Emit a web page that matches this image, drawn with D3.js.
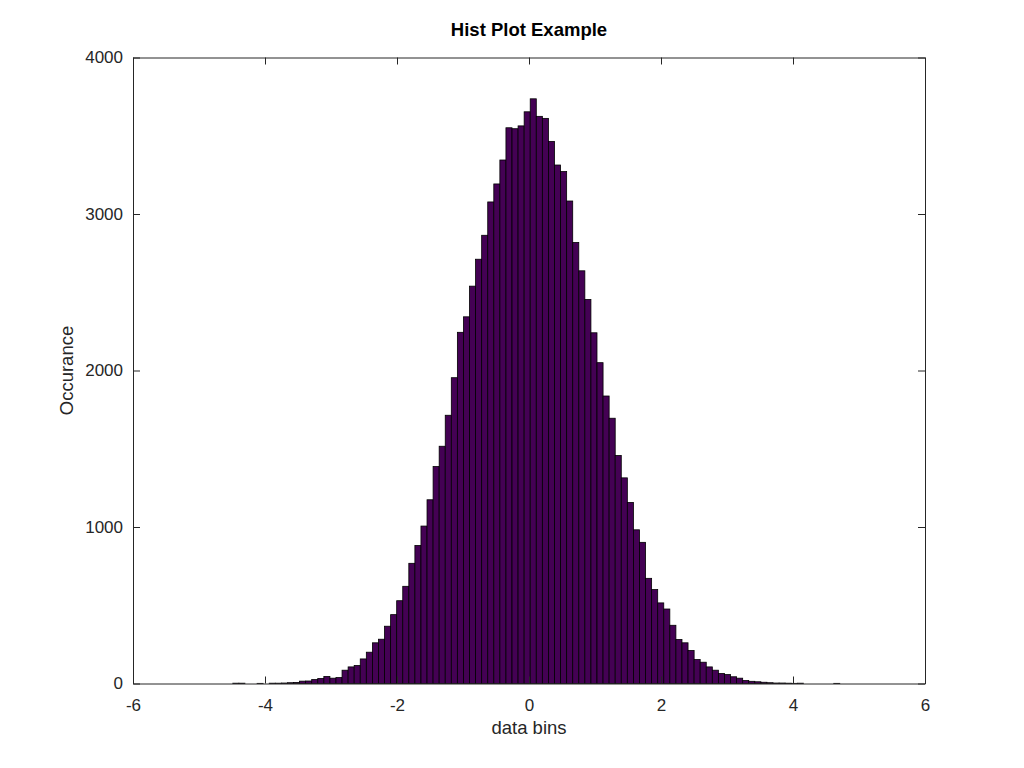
<!DOCTYPE html>
<html>
<head>
<meta charset="utf-8">
<script src="https://cdn.jsdelivr.net/npm/d3@7"></script>
<style>
  body { margin: 0; background: #fff; }
  svg { display: block; font-family: "Liberation Sans", Arial, Helvetica, sans-serif; }
</style>
</head>
<body>
<div id="chart"></div>
<script>
/* DATA */
// 100 equal bins
const binStart = -4.488;
const binWidth = 0.09197;
const counts = [
  2, 2, 0, 0, 1, 0, 2, 2, 3, 5,
  7, 15, 16, 25, 32, 45, 34, 38, 85, 106,
  115, 157, 200, 260, 283, 366, 440, 529, 621, 768,
  882, 1006, 1174, 1386, 1516, 1714, 1954, 2244, 2343, 2539,
  2711, 2864, 3077, 3192, 3345, 3551, 3545, 3563, 3653, 3736,
  3624, 3611, 3464, 3313, 3271, 3083, 2818, 2637, 2454, 2241,
  2050, 1837, 1695, 1457, 1314, 1157, 982, 902, 672, 600,
  515, 476, 372, 281, 260, 211, 153, 136, 106, 85,
  64, 57, 43, 34, 19, 14, 11, 8, 5, 3,
  3, 2, 1, 2, 0, 0, 0, 0, 0, 1
];
const xTicks = [-6, -4, -2, 0, 2, 4, 6];
const yTicks = [0, 1000, 2000, 3000, 4000];

/* CONSTANTS */
const width = 1024,
  height = 768,
  margin = { top: 57.5, bottom: 84.5, left: 133, right: 99 };
const axisColor = "#262626";

const bins = counts.map((c, i) => ({
  x0: binStart + i * binWidth,
  x1: binStart + (i + 1) * binWidth,
  count: c
}));

const svg = d3.select("#chart")
  .append("svg")
  .attr("width", width)
  .attr("height", height);

const xScale = d3.scaleLinear()
  .domain([-6, 6])
  .range([margin.left, width - margin.right]);

const yScale = d3.scaleLinear()
  .domain([0, 4000])
  .range([height - margin.bottom, margin.top]);

// bars
svg.append("g")
  .selectAll("rect")
  .data(bins.filter(d => d.count > 0))
  .join("rect")
  .attr("x", d => xScale(d.x0))
  .attr("width", d => xScale(d.x1) - xScale(d.x0))
  .attr("y", d => yScale(d.count))
  .attr("height", d => yScale(0) - yScale(d.count))
  .attr("fill", "#440154")
  .attr("stroke", "#000")
  .attr("stroke-width", 0.8);

// axes, ticks point inwards; plain hyphen for negatives like the original
const plain = d => String(d);
const xAxis = d3.axisBottom(xScale).tickValues(xTicks).tickSizeInner(-7).tickSizeOuter(0).tickPadding(15).tickFormat(plain);
const yAxis = d3.axisLeft(yScale).tickValues(yTicks).tickSizeInner(-7).tickSizeOuter(0).tickPadding(10).tickFormat(plain);
const xTop = d3.axisTop(xScale).tickValues(xTicks).tickSizeInner(-7).tickSizeOuter(0).tickFormat("");
const yRight = d3.axisRight(yScale).tickValues(yTicks).tickSizeInner(-7).tickSizeOuter(0).tickFormat("");

function styleAxis(g) {
  g.select(".domain").attr("stroke", axisColor);
  g.selectAll(".tick line").attr("stroke", axisColor);
  g.selectAll(".tick text")
    .attr("fill", axisColor)
    .style("font-size", "17px")
    .style("font-family", "'Liberation Sans', Arial, sans-serif");
}

svg.append("g")
  .attr("transform", `translate(0, ${height - margin.bottom})`)
  .call(xAxis)
  .call(styleAxis);

svg.append("g")
  .attr("transform", `translate(${margin.left}, 0)`)
  .call(yAxis)
  .call(styleAxis);

svg.append("g")
  .attr("transform", `translate(0, ${margin.top})`)
  .call(xTop)
  .call(styleAxis);

svg.append("g")
  .attr("transform", `translate(${width - margin.right}, 0)`)
  .call(yRight)
  .call(styleAxis);

// labels
svg.append("text")
  .attr("x", xScale(0))
  .attr("y", 36)
  .attr("text-anchor", "middle")
  .style("font-size", "18.5px")
  .style("font-weight", "bold")
  .attr("fill", "#000")
  .text("Hist Plot Example");

svg.append("text")
  .attr("x", xScale(0))
  .attr("y", 734)
  .attr("text-anchor", "middle")
  .style("font-size", "18.5px")
  .attr("fill", axisColor)
  .text("data bins");

svg.append("text")
  .attr("transform", `translate(73, ${yScale(2000)}) rotate(-90)`)
  .attr("text-anchor", "middle")
  .style("font-size", "18.5px")
  .attr("fill", axisColor)
  .text("Occurance");
</script>
</body>
</html>
